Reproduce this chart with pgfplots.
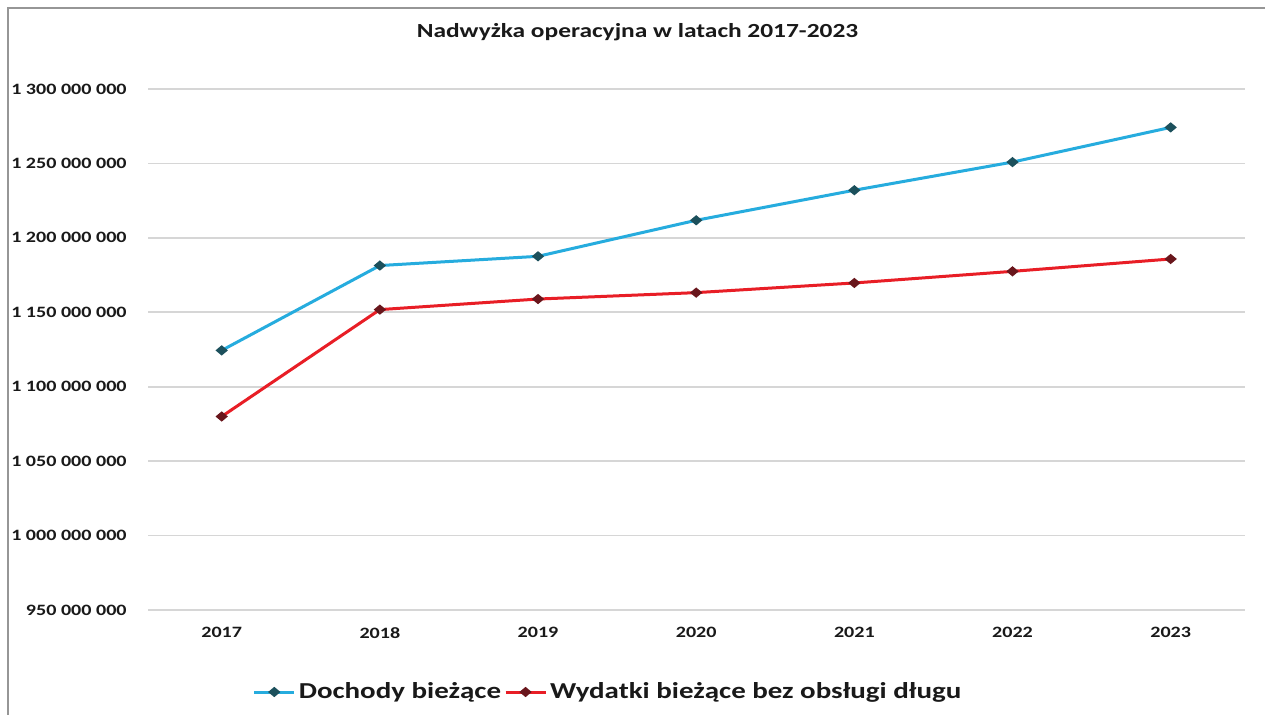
\documentclass[border=0pt]{standalone}
\usepackage{fontspec}
\setmainfont{Carlito}
\newfontfamily\chartfont[FakeStretch=1.27]{Carlito}
\usepackage{pgfplots}
\pgfplotsset{compat=1.18}
\definecolor{cblue}{RGB}{38,172,222}
\definecolor{cred}{RGB}{232,30,38}
\definecolor{mblue}{RGB}{28,80,92}
\definecolor{mred}{RGB}{105,22,28}
\definecolor{gridc}{RGB}{214,214,214}
\definecolor{framec}{RGB}{150,150,150}
\definecolor{txt}{RGB}{25,25,25}
\pgfplotstableread{
x dochody wydatki
0 1124400000 1080000000
1 1181400000 1151800000
2 1187600000 1158900000
3 1211800000 1163200000
4 1232000000 1169700000
5 1250900000 1177500000
6 1274200000 1185800000
}\data
\begin{document}
\begin{tikzpicture}
\useasboundingbox (-74bp,-52.5bp) rectangle (558.5bp,305bp);
\fill[white] (-74bp,-52.5bp) rectangle (558.5bp,305bp);
\draw[framec, line width=1bp] (-70bp,-52.5bp) -- (-70bp,301bp) -- (558.5bp,301bp);
\begin{axis}[
  at={(0bp,0bp)}, anchor=south west,
  scale only axis, width=548.5bp, height=260.5bp,
  xmin=-0.466, xmax=6.47,
  ymin=950000000, ymax=1300000000,
  axis line style={draw=none},
  xtick={0,1,2,3,4,5,6},
  xticklabels={2017,2018,2019,2020,2021,2022,2023},
  ytick={950000000,1000000000,1050000000,1100000000,1150000000,1200000000,1250000000,1300000000},
  yticklabels={950 000 000,1 000 000 000,1 050 000 000,1 100 000 000,1 150 000 000,1 200 000 000,1 250 000 000,1 300 000 000},
  major tick length=0pt,
  tick style={draw=none},
  ymajorgrids,
  grid style={gridc, line width=0.8bp},
  scaled y ticks=false,
  yticklabel style={font=\chartfont\bfseries\fontsize{7.9bp}{9bp}\selectfont, text=txt, inner sep=0pt, anchor=east, xshift=-10.5bp},
  xticklabel style={font=\chartfont\bfseries\fontsize{7.9bp}{9bp}\selectfont, text=txt, inner sep=0pt, anchor=north, yshift=-8.5bp},
  legend columns=2,
  legend style={draw=none, fill=none, at={(0.4198,-0.1574)}, anchor=center,
    font=\chartfont\bfseries\fontsize{11.4bp}{13bp}\selectfont, text=txt,
    /tikz/every even column/.append style={column sep=0bp},
    nodes={inner sep=1.5bp}},
  legend image code/.code={\draw[mark repeat=2,mark phase=2] plot coordinates {(0bp,0bp)(10bp,0bp)(20bp,0bp)};},
  clip=false,
]
\addplot[cblue, line width=1.5bp, mark=diamond*, mark size=1.6bp,
  mark options={xscale=1.6, fill=mblue, draw=mblue}] table[x=x,y=dochody]{\data};
\addlegendentry{Dochody bieżące}
\addplot[cred, line width=1.5bp, mark=diamond*, mark size=1.6bp,
  mark options={xscale=1.6, fill=mred, draw=mred}] table[x=x,y=wydatki]{\data};
\addlegendentry{Wydatki bieżące bez obsługi długu}
\end{axis}
\node[anchor=base, text=txt, font=\chartfont\bfseries\fontsize{10bp}{12bp}\selectfont] at (244.75bp,286bp) {Nadwyżka operacyjna w latach 2017-2023};
\end{tikzpicture}
\end{document}
